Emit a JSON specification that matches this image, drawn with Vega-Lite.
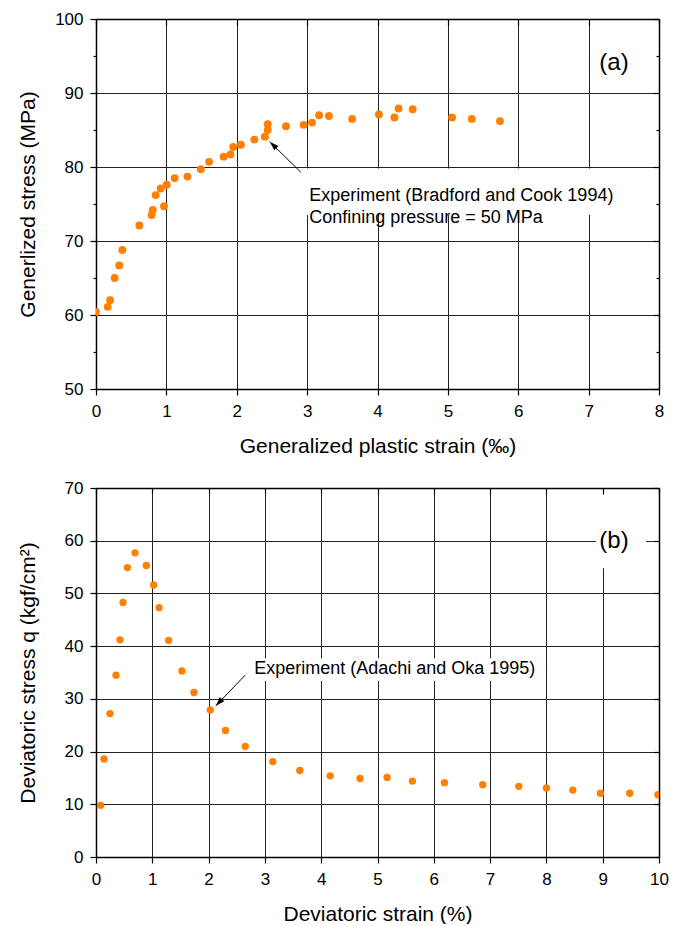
{
  "$schema": "https://vega.github.io/schema/vega-lite/v6.json",
  "padding": {"left": 17, "top": 10, "right": 0, "bottom": 0},
  "spacing": 23,
  "datasets": {
    "a": [
      {"strain": 0, "stress": 60.4}, {"strain": 0.166, "stress": 61.1}, {"strain": 0.2, "stress": 62.0},
      {"strain": 0.265, "stress": 65.0}, {"strain": 0.33, "stress": 66.7}, {"strain": 0.374, "stress": 68.8},
      {"strain": 0.616, "stress": 72.1}, {"strain": 0.79, "stress": 73.5}, {"strain": 0.806, "stress": 74.2},
      {"strain": 0.967, "stress": 74.7}, {"strain": 0.848, "stress": 76.2}, {"strain": 0.919, "stress": 77.1},
      {"strain": 1.005, "stress": 77.6}, {"strain": 1.118, "stress": 78.5}, {"strain": 1.30, "stress": 78.7},
      {"strain": 1.49, "stress": 79.7}, {"strain": 1.607, "stress": 80.7}, {"strain": 1.815, "stress": 81.4},
      {"strain": 1.91, "stress": 81.7}, {"strain": 1.95, "stress": 82.7}, {"strain": 2.06, "stress": 83.0},
      {"strain": 2.25, "stress": 83.7}, {"strain": 2.40, "stress": 84.1}, {"strain": 2.44, "stress": 85.0},
      {"strain": 2.44, "stress": 85.8}, {"strain": 2.70, "stress": 85.5}, {"strain": 2.95, "stress": 85.7},
      {"strain": 3.07, "stress": 86.0}, {"strain": 3.17, "stress": 87.0}, {"strain": 3.31, "stress": 86.9},
      {"strain": 3.64, "stress": 86.5}, {"strain": 4.02, "stress": 87.1}, {"strain": 4.24, "stress": 86.7},
      {"strain": 4.30, "stress": 87.9}, {"strain": 4.50, "stress": 87.8}, {"strain": 5.06, "stress": 86.7},
      {"strain": 5.34, "stress": 86.5}, {"strain": 5.74, "stress": 86.2}
    ],
    "b": [
      {"strain": 0.083, "q": 9.8}, {"strain": 0.142, "q": 18.6}, {"strain": 0.249, "q": 27.2},
      {"strain": 0.355, "q": 34.5}, {"strain": 0.426, "q": 41.2}, {"strain": 0.48, "q": 48.3},
      {"strain": 0.557, "q": 54.9}, {"strain": 0.693, "q": 57.7}, {"strain": 0.894, "q": 55.3},
      {"strain": 1.024, "q": 51.6}, {"strain": 1.12, "q": 47.3}, {"strain": 1.29, "q": 41.1},
      {"strain": 1.527, "q": 35.3}, {"strain": 1.74, "q": 31.2}, {"strain": 2.03, "q": 27.9},
      {"strain": 2.30, "q": 24.0}, {"strain": 2.65, "q": 21.0}, {"strain": 3.14, "q": 18.1},
      {"strain": 3.62, "q": 16.4}, {"strain": 4.16, "q": 15.4}, {"strain": 4.69, "q": 14.9},
      {"strain": 5.17, "q": 15.1}, {"strain": 5.62, "q": 14.4}, {"strain": 6.19, "q": 14.1},
      {"strain": 6.87, "q": 13.7}, {"strain": 7.51, "q": 13.4}, {"strain": 8.0, "q": 13.1},
      {"strain": 8.47, "q": 12.7}, {"strain": 8.96, "q": 12.1}, {"strain": 9.48, "q": 12.1},
      {"strain": 9.98, "q": 11.8}
    ],
    "a_box": [{"x": 2.91, "x2": 7.53, "y": 73.5, "y2": 79.8}],
    "a_text": [{"x": 3.03, "y": 76.1, "label": "Experiment (Bradford and Cook 1994)\nConfining pressure = 50 MPa"}],
    "a_tag": [{"x": 7.36, "y": 94.05, "label": "(a)"}],
    "a_arrow": [{"x": 2.91, "y": 79.3, "x2": 2.47, "y2": 83.4}],
    "b_box": [{"x": 2.72, "x2": 7.96, "y": 33.4, "y2": 37.7}, {"x": 8.88, "x2": 9.77, "y": 54.8, "y2": 68.7}],
    "b_text": [{"x": 2.81, "y": 35.65, "label": "Experiment (Adachi and Oka 1995)"}],
    "b_tag": [{"x": 9.2, "y": 59.94, "label": "(b)"}],
    "b_arrow": [{"x": 2.65, "y": 34.5, "x2": 2.13, "y2": 28.7}]
  },
  "vconcat": [
    {
      "width": 563,
      "height": 370,
      "resolve": {"axis": {"x": "independent", "y": "independent"}},
      "layer": [
        {
          "data": {"name": "a"},
          "mark": {"type": "circle", "color": "#ff7f00", "size": 62, "opacity": 1, "clip": true},
          "encoding": {
            "x": {"field": "strain", "type": "quantitative",
                  "scale": {"domain": [0, 8], "nice": false, "zero": false},
                  "axis": {"orient": "bottom", "values": [0, 1, 2, 3, 4, 5, 6, 7, 8], "tickSize": 6, "labelPadding": 8,
                           "grid": true, "title": "Generalized plastic strain (‰)", "titlePadding": 16}},
            "y": {"field": "stress", "type": "quantitative",
                  "scale": {"domain": [50, 100], "nice": false, "zero": false},
                  "axis": {"orient": "left", "values": [50, 55, 60, 65, 70, 75, 80, 85, 90, 95, 100],
                           "tickSize": {"condition": {"test": "datum.value % 10 === 0", "value": 6}, "value": 3},
                           "labelExpr": "datum.value % 10 === 0 ? datum.label : ''",
                           "gridOpacity": {"condition": {"test": "datum.value % 10 === 0", "value": 1}, "value": 0},
                           "grid": true, "labelPadding": 7, "title": "Generlized stress (MPa)",
                           "titleX": -68, "titleBaseline": "middle"}}
          }
        },
        {
          "data": {"name": "a"},
          "mark": {"type": "circle", "opacity": 0},
          "encoding": {
            "x": {"field": "strain", "type": "quantitative",
                  "axis": {"orient": "top", "values": [0, 1, 2, 3, 4, 5, 6, 7, 8], "tickSize": -6, "labels": false, "grid": false, "title": null}},
            "y": {"field": "stress", "type": "quantitative",
                  "axis": {"orient": "right", "values": [50, 55, 60, 65, 70, 75, 80, 85, 90, 95, 100],
                           "tickSize": {"condition": {"test": "datum.value % 10 === 0", "value": -6}, "value": -3},
                           "labels": false, "grid": false, "title": null}}
          }
        },
        {
          "data": {"name": "a_box"},
          "mark": {"type": "rect", "color": "white"},
          "encoding": {
            "x": {"field": "x", "type": "quantitative", "axis": null},
            "x2": {"field": "x2"},
            "y": {"field": "y", "type": "quantitative", "axis": null},
            "y2": {"field": "y2"}
          }
        },
        {
          "data": {"name": "a_text"},
          "mark": {"type": "text", "align": "left", "baseline": "middle", "fontSize": 18, "lineHeight": 22, "lineBreak": "\n", "font": "Liberation Sans", "color": "black"},
          "encoding": {
            "x": {"field": "x", "type": "quantitative", "axis": null},
            "y": {"field": "y", "type": "quantitative", "axis": null},
            "text": {"field": "label"}
          }
        },
        {
          "data": {"name": "a_tag"},
          "mark": {"type": "text", "align": "center", "baseline": "middle", "fontSize": 24, "font": "Liberation Sans", "color": "black"},
          "encoding": {
            "x": {"field": "x", "type": "quantitative", "axis": null},
            "y": {"field": "y", "type": "quantitative", "axis": null},
            "text": {"field": "label"}
          }
        },
        {
          "data": {"name": "a_arrow"},
          "mark": {"type": "rule", "color": "black", "strokeWidth": 1},
          "encoding": {
            "x": {"field": "x", "type": "quantitative", "axis": null},
            "y": {"field": "y", "type": "quantitative", "axis": null},
            "x2": {"field": "x2"},
            "y2": {"field": "y2"}
          }
        },
        {
          "data": {"name": "a_arrow"},
          "mark": {"type": "point", "shape": "M0,0L-0.6,1.8L0.6,1.8Z", "filled": true, "color": "black", "size": 100, "opacity": 1, "angle": -46},
          "encoding": {
            "x": {"field": "x2", "type": "quantitative", "axis": null},
            "y": {"field": "y2", "type": "quantitative", "axis": null}
          }
        }
      ]
    },
    {
      "width": 563,
      "height": 369,
      "resolve": {"axis": {"x": "independent", "y": "independent"}},
      "layer": [
        {
          "data": {"name": "b"},
          "mark": {"type": "circle", "color": "#ff7f00", "size": 54, "opacity": 1, "clip": true},
          "encoding": {
            "x": {"field": "strain", "type": "quantitative",
                  "scale": {"domain": [0, 10], "nice": false, "zero": false},
                  "axis": {"orient": "bottom", "values": [0, 1, 2, 3, 4, 5, 6, 7, 8, 9, 10], "tickSize": 6, "labelPadding": 8,
                           "grid": true, "title": "Deviatoric strain (%)", "titlePadding": 16}},
            "y": {"field": "q", "type": "quantitative",
                  "scale": {"domain": [0, 70], "nice": false, "zero": false},
                  "axis": {"orient": "left", "values": [0, 10, 20, 30, 40, 50, 60, 70], "tickSize": 6,
                           "grid": true, "labelPadding": 7, "title": "Deviatoric stress q (kgf/cm²)",
                           "titleX": -68, "titleBaseline": "middle"}}
          }
        },
        {
          "data": {"name": "b"},
          "mark": {"type": "circle", "opacity": 0},
          "encoding": {
            "x": {"field": "strain", "type": "quantitative",
                  "axis": {"orient": "top", "values": [0, 1, 2, 3, 4, 5, 6, 7, 8, 9, 10], "tickSize": -5, "labels": false, "grid": false, "title": null}},
            "y": {"field": "q", "type": "quantitative",
                  "axis": {"orient": "right", "values": [0, 10, 20, 30, 40, 50, 60, 70], "tickSize": -5,
                           "labels": false, "grid": false, "title": null}}
          }
        },
        {
          "data": {"name": "b_box"},
          "mark": {"type": "rect", "color": "white"},
          "encoding": {
            "x": {"field": "x", "type": "quantitative", "axis": null},
            "x2": {"field": "x2"},
            "y": {"field": "y", "type": "quantitative", "axis": null},
            "y2": {"field": "y2"}
          }
        },
        {
          "data": {"name": "b_text"},
          "mark": {"type": "text", "align": "left", "baseline": "middle", "fontSize": 18, "font": "Liberation Sans", "color": "black"},
          "encoding": {
            "x": {"field": "x", "type": "quantitative", "axis": null},
            "y": {"field": "y", "type": "quantitative", "axis": null},
            "text": {"field": "label"}
          }
        },
        {
          "data": {"name": "b_tag"},
          "mark": {"type": "text", "align": "center", "baseline": "middle", "fontSize": 24, "font": "Liberation Sans", "color": "black"},
          "encoding": {
            "x": {"field": "x", "type": "quantitative", "axis": null},
            "y": {"field": "y", "type": "quantitative", "axis": null},
            "text": {"field": "label"}
          }
        },
        {
          "data": {"name": "b_arrow"},
          "mark": {"type": "rule", "color": "black", "strokeWidth": 1},
          "encoding": {
            "x": {"field": "x", "type": "quantitative", "axis": null},
            "y": {"field": "y", "type": "quantitative", "axis": null},
            "x2": {"field": "x2"},
            "y2": {"field": "y2"}
          }
        },
        {
          "data": {"name": "b_arrow"},
          "mark": {"type": "point", "shape": "M0,0L-0.6,1.8L0.6,1.8Z", "filled": true, "color": "black", "size": 100, "opacity": 1, "angle": -137},
          "encoding": {
            "x": {"field": "x2", "type": "quantitative", "axis": null},
            "y": {"field": "y2", "type": "quantitative", "axis": null}
          }
        }
      ]
    }
  ],
  "config": {
    "view": {"stroke": null},
    "font": "Liberation Sans",
    "axis": {
      "labelFont": "Liberation Sans",
      "labelFontSize": 17,
      "labelColor": "black",
      "titleFont": "Liberation Sans",
      "titleFontSize": 21,
      "titleFontWeight": "normal",
      "titleColor": "black",
      "domainColor": "black",
      "domainWidth": 1.5,
      "tickColor": "black",
      "tickWidth": 1.2,
      "gridColor": "#222222",
      "gridWidth": 1,
      "labelFlush": false,
      "labelOverlap": false
    }
  }
}
